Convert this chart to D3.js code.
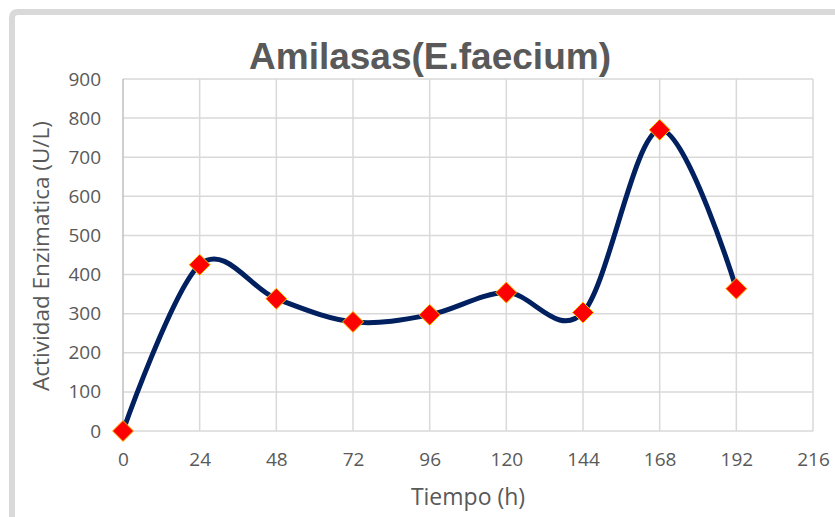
<!DOCTYPE html>
<html>
<head>
<meta charset="utf-8">
<script src="https://cdn.jsdelivr.net/npm/d3@7"></script>
<style>
  body { margin: 0; background: #fff; }
  svg { display: block; }
</style>
</head>
<body>
<div id="chart"></div>
<script>
// data
var horas = [0, 24, 48, 72, 96, 120, 144, 168, 192];
var actividad = [0, 425, 338, 279, 297, 354, 303, 770, 364];
var xTicks = [0, 24, 48, 72, 96, 120, 144, 168, 192, 216];
var yTicks = [0, 100, 200, 300, 400, 500, 600, 700, 800, 900];

var W = 835, H = 517;
var margin = { top: 79, right: 22, bottom: 86, left: 123 },
    width = 813 - margin.left,
    height = 431 - margin.top;

var root = d3.select("#chart")
    .append("svg")
    .attr("width", W)
    .attr("height", H);

// outer frame (gray border top + left)
root.append("path")
    .attr("d", "M12,517 L12,18 Q12,12 18,12 L835,12")
    .attr("fill", "none")
    .attr("stroke", "#d9d9d9")
    .attr("stroke-width", 6);

var svg = root.append("g")
    .attr("transform", "translate(" + margin.left + "," + margin.top + ")");

var x = d3.scaleLinear().domain([0, 216]).range([0, width]);
var y = d3.scaleLinear().domain([0, 900]).range([height, 0]);

// horizontal gridlines
svg.append("g")
    .selectAll("line")
    .data(yTicks)
    .enter()
    .append("line")
    .attr("x1", 0)
    .attr("x2", width)
    .attr("y1", function (d) { return y(d) })
    .attr("y2", function (d) { return y(d) })
    .attr("stroke", "#d9d9d9")
    .attr("stroke-width", 1.5);

// vertical gridlines
svg.append("g")
    .selectAll("line")
    .data(xTicks)
    .enter()
    .append("line")
    .attr("x1", function (d) { return x(d) })
    .attr("x2", function (d) { return x(d) })
    .attr("y1", 0)
    .attr("y2", height)
    .attr("stroke", function (d) { return d === 0 ? "#bfbfbf" : "#d9d9d9" })
    .attr("stroke-width", 1.5);

// X axis labels
var xAxis = svg.append("g")
    .attr("transform", "translate(0," + height + ")")
    .call(d3.axisBottom(x).tickValues(xTicks).tickSize(0).tickPadding(22));
xAxis.select(".domain").remove();
xAxis.selectAll("text")
    .attr("fill", "#595959")
    .style("font-family", "'Open Sans', sans-serif")
    .style("font-size", "19px");

// Y axis labels
var yAxis = svg.append("g")
    .call(d3.axisLeft(y).tickValues(yTicks).tickSize(0).tickPadding(22));
yAxis.select(".domain").remove();
yAxis.selectAll("text")
    .attr("fill", "#595959")
    .style("font-family", "'Open Sans', sans-serif")
    .style("font-size", "19px");

// smooth line
var pts = horas.map(function (h, i) { return { h: h, v: actividad[i] } });
svg.append("path")
    .datum(pts)
    .attr("fill", "none")
    .attr("stroke", "#002060")
    .attr("stroke-width", 5)
    .attr("stroke-linejoin", "round")
    .attr("d", d3.line()
        .curve(d3.curveCatmullRom.alpha(0))
        .x(function (d) { return x(d.h) })
        .y(function (d) { return y(d.v) })
    );

// diamond markers
svg.append("g")
    .selectAll("path")
    .data(pts)
    .enter()
    .append("path")
    .attr("transform", function (d) { return "translate(" + x(d.h) + "," + y(d.v) + ")" })
    .attr("d", "M0,-10.5 L10.5,0 L0,10.5 L-10.5,0 Z")
    .attr("fill", "#ff0000")
    .attr("stroke", "#ffc000")
    .attr("stroke-width", 1);

// title
root.append("text")
    .attr("x", 430)
    .attr("y", 69)
    .attr("text-anchor", "middle")
    .attr("fill", "#595959")
    .style("font-family", "'Liberation Sans', Arial, sans-serif")
    .style("font-weight", "bold")
    .style("font-size", "37px")
    .text("Amilasas(E.faecium)");

// axis titles
root.append("text")
    .attr("x", 468)
    .attr("y", 505)
    .attr("text-anchor", "middle")
    .attr("fill", "#595959")
    .style("font-family", "'Open Sans', sans-serif")
    .style("font-size", "23px")
    .text("Tiempo (h)");

root.append("text")
    .attr("transform", "translate(49,256) rotate(-90)")
    .attr("text-anchor", "middle")
    .attr("fill", "#595959")
    .style("font-family", "'Open Sans', sans-serif")
    .style("font-size", "22.5px")
    .text("Actividad Enzimatica (U/L)");
</script>
</body>
</html>
